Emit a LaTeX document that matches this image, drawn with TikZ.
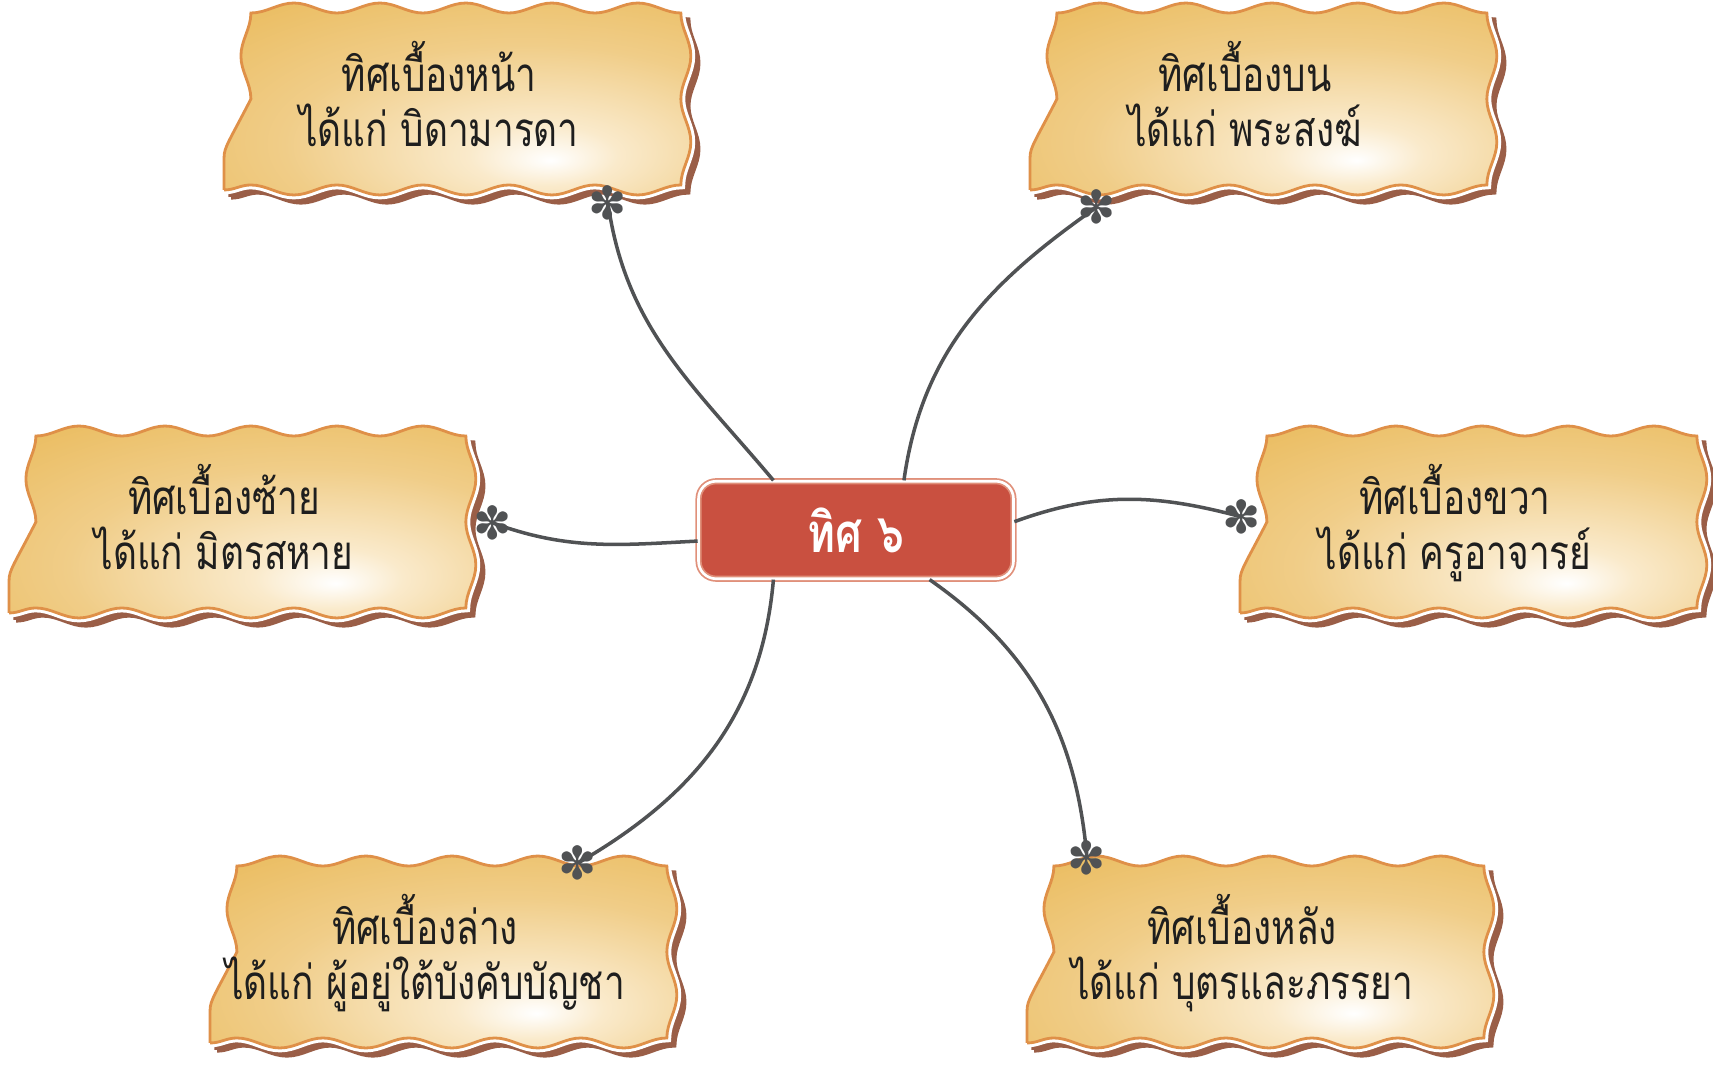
\documentclass[tikz,border=0pt]{standalone}
\usepackage{fontspec}
\newfontfamily\thaifont[Script=Thai, FakeStretch=0.78]{Loma}
\newfontfamily\symfont{DejaVu Sans}
\usetikzlibrary{decorations.pathmorphing}

\definecolor{boxgold}{HTML}{E8B54E}
\definecolor{boxmid}{HTML}{F0CD88}
\definecolor{boxlight}{HTML}{FAEACB}
\definecolor{borderorange}{HTML}{DF9048}
\definecolor{shadowbrown}{HTML}{9A5E47}
\definecolor{hubred}{HTML}{C95040}
\definecolor{hubline}{HTML}{E0907A}
\definecolor{linkgray}{HTML}{505254}
\definecolor{textdark}{HTML}{1E1E1E}

\pgfdeclareradialshading{boxshade}{\pgfpoint{10bp}{-16bp}}{color(0bp)=(white); color(8bp)=(boxlight); color(26bp)=(boxmid); color(52bp)=(boxgold); color(100bp)=(boxgold)}

\begin{document}
\begin{tikzpicture}[
    x=0.02cm, y=0.02cm,
    box/.style={decorate, decoration={snake, segment length=1.72cm, amplitude=0.1cm},
        minimum width=8.6cm, minimum height=3.44cm, inner sep=4pt, text depth=0.4cm,
        align=center, text=textdark, font=\thaifont\fontsize{27}{31}\selectfont,
        preaction={fill=shadowbrown, draw=shadowbrown, line width=3pt, transform canvas={shift={(0.14cm,-0.14cm)}}},
        preaction={draw=white, line width=5pt},
        shade, shading=boxshade, draw=borderorange, line width=1.6pt},
    hub/.style={rectangle, rounded corners=0.35cm, fill=hubred, draw=hubline, double=white,
        double distance=1.5pt, line width=1pt, minimum width=6.3cm, minimum height=1.95cm,
        text=white, font=\thaifont\bfseries\fontsize{31}{31}\selectfont},
    link/.style={draw=linkgray, line width=2pt},
    flowerpin/.style={text=linkgray, font=\symfont\fontsize{26}{26}\selectfont, inner sep=0pt}
]
\useasboundingbox (0,0) rectangle (1713,1065);

% six directions
\node[box] (front) at (439,961) {ทิศเบื้องหน้า\\ได้แก่ บิดามารดา};
\node[box] (upper) at (1245,961) {ทิศเบื้องบน\\ได้แก่ พระสงฆ์};
\node[box] (leftside) at (224,538) {ทิศเบื้องซ้าย\\ได้แก่ มิตรสหาย};
\node[box] (rightside) at (1455,538) {ทิศเบื้องขวา\\ได้แก่ ครูอาจารย์};
\node[box] (lower) at (425,108) {ทิศเบื้องล่าง\\ได้แก่ ผู้อยู่ใต้บังคับบัญชา};
\node[box] (back) at (1242,108) {ทิศเบื้องหลัง\\ได้แก่ บุตรและภรรยา};

% centre
\node[hub] (six) at (856,535) {ทิศ ๖};

% pins on the boxes
\node[flowerpin] (frontpin) at (608,862) {✽};
\node[flowerpin] (upperpin) at (1097,858) {✽};
\node[flowerpin] (leftpin) at (493,542) {✽};
\node[flowerpin] (rightpin) at (1242,548) {✽};
\node[flowerpin] (lowerpin) at (578,202) {✽};
\node[flowerpin] (backpin) at (1087,207) {✽};

\draw[link] (six.149) to[out=130, in=-82] (frontpin.center);
\draw[link] (six.46) to[out=82, in=-145] (upperpin.center);
\draw[link] (six.184) to[out=183, in=-20] (leftpin.center);
\draw[link] (six.3) to[out=20, in=165] (rightpin.center);
\draw[link] (six.211) to[out=-95, in=30] (lowerpin.center);
\draw[link] (six.326) to[out=-35, in=95] (backpin.center);
\end{tikzpicture}
\end{document}
